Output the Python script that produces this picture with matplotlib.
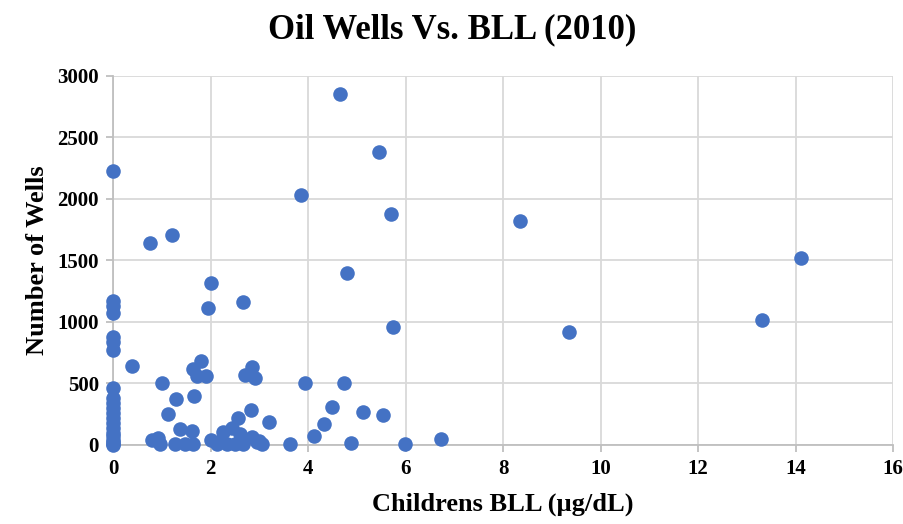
import matplotlib.pyplot as plt

# Childrens BLL (ug/dL) vs number of oil wells, 2010
bll = [0, 0, 0, 0, 0, 0, 0, 0, 0, 0, 0, 0, 0, 0, 0, 0, 0, 0, 0, 0, 0,
       0.39, 0.75, 1.2, 1.95, 2.0, 2.67, 3.85, 4.65, 5.45, 5.7, 4.8, 5.75,
       8.35, 9.35, 13.3, 14.1,
       1.8, 1.64, 1.72, 1.9, 2.85, 2.7, 2.91, 1.0, 3.94, 4.74, 1.3, 1.66,
       1.13, 2.83, 2.56, 3.2, 1.37, 1.62, 2.25, 2.44,
       0.8, 0.92, 0.96, 1.27, 1.48, 1.64, 2.0, 2.13, 2.34, 2.5, 2.67, 2.85,
       3.0, 3.05, 3.63, 4.12, 4.33, 4.49, 5.13, 5.54, 4.88, 5.99, 6.73,
       2.22, 2.6, 2.95]
wells = [2230, 1170, 1130, 1070, 880, 840, 775, 460, 380, 340, 300, 260,
         220, 180, 140, 100, 70, 40, 20, 5, 0,
         640, 1640, 1710, 1110, 1320, 1165, 2030, 2850, 2380, 1880, 1400, 960,
         1820, 920, 1015, 1520,
         680, 620, 560, 560, 630, 570, 540, 500, 505, 505, 370, 400,
         255, 285, 220, 185, 130, 110, 105, 140,
         40, 55, 10, 10, 10, 10, 40, 10, 10, 10, 10, 60,
         30, 5, 5, 75, 170, 305, 270, 245, 15, 5, 45,
         30, 90, 20]

serif = 'Liberation Serif'
fig, ax = plt.subplots(figsize=(9.04, 5.24), dpi=100)
fig.subplots_adjust(left=0.125, right=0.988, bottom=0.151, top=0.855)

ax.scatter(bll, wells, s=110, color='#4472C4', zorder=3, linewidths=0,
           clip_on=False)

ax.set_xlim(0, 16)
ax.set_ylim(0, 3000)
ax.set_xticks(range(0, 17, 2))
ax.set_yticks(range(0, 3001, 500))
ax.grid(True, color='#D9D9D9', linewidth=1.3)
ax.set_axisbelow(True)
for side in ['top', 'right']:
    ax.spines[side].set_visible(False)
for side in ['left', 'bottom']:
    ax.spines[side].set_color('#BFBFBF')
    ax.spines[side].set_linewidth(1.3)
ax.tick_params(direction='out', length=5, color='#BFBFBF', width=1.3, pad=5)
for lab in ax.get_xticklabels() + ax.get_yticklabels():
    lab.set_fontfamily(serif)
    lab.set_fontweight('bold')
    lab.set_fontsize(15)

ax.set_xlabel('Childrens BLL (µg/dL)', fontfamily=serif, fontweight='bold',
              fontsize=19, labelpad=10)
ax.set_ylabel('Number of Wells', fontfamily=serif, fontweight='bold',
              fontsize=19, labelpad=6)
fig.suptitle('Oil Wells Vs. BLL (2010)', fontfamily=serif, fontweight='bold',
             fontsize=25, y=0.975)

plt.savefig('out.png')
